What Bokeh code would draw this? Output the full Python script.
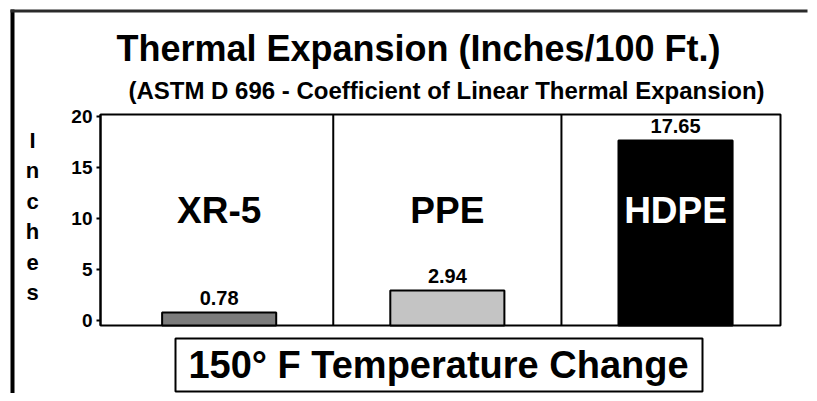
from bokeh.plotting import figure
from bokeh.models import Range1d, Label, BoxAnnotation, ColumnDataSource, FixedTicker
from bokeh.embed import file_html
from bokeh.resources import INLINE
from bokeh.core.properties import value

# ---- data ----
categories = ["XR-5", "PPE", "HDPE"]
values = [0.78, 2.94, 17.65]
value_labels = ["0.78", "2.94", "17.65"]
bar_colors = ["#7c7c7c", "#c4c4c4", "#000000"]
name_colors = ["black", "black", "white"]
y_ticks = [0, 5, 10, 15, 20]
title_text = "Thermal Expansion (Inches/100 Ft.)"
subtitle_text = "(ASTM D 696 - Coefficient of Linear Thermal Expansion)"
y_label = "Inches"
caption_text = "150\u00b0 F Temperature Change"

FONT = "Liberation Sans"
W, H = 809, 393                      # canvas size
BOX_L, BOX_R, BOX_T, BOX_B = 100, 780, 114, 325   # chart box in canvas px
X_LO, X_HI = 0.48, 3.46              # data extent of chart box
Y_LO, Y_HI = -0.5, 20.2
NAME_Y = 10.8
LABEL_PAD = 1.4

positions = list(range(1, len(categories) + 1))
midpoints = [(a + b) / 2 for a, b in zip(positions[:-1], positions[1:])]

kx = (BOX_R - BOX_L) / (X_HI - X_LO)
ky = (BOX_B - BOX_T) / (Y_HI - Y_LO)
x_range = Range1d(X_LO - BOX_L / kx, X_HI + (W - BOX_R) / kx)
y_range = Range1d(Y_LO - (H - BOX_B) / ky, Y_HI + BOX_T / ky)

p = figure(width=W, height=H, output_backend="svg", toolbar_location=None,
           x_range=x_range, y_range=y_range, x_axis_location=None,
           min_border_left=0, min_border_right=0, min_border_top=0, min_border_bottom=0)
p.background_fill_color = "white"
p.border_fill_color = "white"
p.outline_line_color = None
p.xgrid.visible = False
p.ygrid.visible = False

ax = p.yaxis[0]
ax.fixed_location = X_LO
ax.bounds = (Y_LO, Y_HI)
ax.ticker = FixedTicker(ticks=y_ticks)
ax.major_label_text_font = FONT
ax.major_label_text_font_style = "bold"
ax.major_label_text_font_size = "19px"
ax.major_label_text_color = "black"
ax.axis_line_color = "black"
ax.axis_line_width = 2
ax.major_tick_line_color = "black"
ax.major_tick_line_width = 2
ax.major_tick_out = 4
ax.major_tick_in = 0
ax.minor_tick_out = 0
ax.minor_tick_in = 0
ax.major_label_standoff = 4

src = ColumnDataSource(dict(
    x=positions, top=values, vlab=value_labels, name=categories,
    color=bar_colors, ncolor=name_colors,
    name_y=[NAME_Y] * len(categories),
    lab_y=[v + LABEL_PAD for v in values],
))

# chart box
p.quad(left=[X_LO], right=[X_HI], bottom=[Y_LO], top=[Y_HI],
       fill_color="white", line_color="black", line_width=2)

p.vbar(x="x", top="top", bottom=Y_LO, width=0.5, source=src,
       fill_color="color", line_color="black", line_width=2)

p.segment(x0=midpoints, x1=midpoints, y0=[Y_LO] * len(midpoints), y1=[Y_HI] * len(midpoints),
          line_color="black", line_width=2)

p.text(x="x", y="lab_y", text="vlab", source=src, text_font=value(FONT),
       text_font_style="bold", text_font_size="20px", text_color="black",
       text_align="center", text_baseline="alphabetic")

p.text(x="x", y="name_y", text="name", source=src, text_font=value(FONT),
       text_font_style="bold", text_font_size="37px", text_color="ncolor",
       text_align="center", text_baseline="alphabetic")

# ---- decorations (screen units, measured from frame bottom-left) ----
def box(l, r, t, b, fill, line=None, lw=0):
    return BoxAnnotation(left=l, right=r, top=H - t, bottom=H - b,
                         left_units="screen", right_units="screen",
                         top_units="screen", bottom_units="screen",
                         fill_color=fill, fill_alpha=1.0,
                         line_color=line if line else "black", line_width=lw,
                         line_alpha=1.0 if line else 0.0)

p.add_layout(box(10, 14, 9, H, "black"))
p.add_layout(box(10, W - 2, 9, 12, "#2a2a2a"))
p.add_layout(box(175, 702, 338, 391, "white", "black", 2))

def lab(x, y, text, size):
    return Label(x=x, y=H - y, x_units="screen", y_units="screen", text=text,
                 text_font=FONT, text_font_style="bold", text_font_size=size,
                 text_color="black", text_align="center", text_baseline="alphabetic")

p.add_layout(lab(418, 48, title_text, "36px"))
p.add_layout(lab(446, 90, subtitle_text, "24px"))
p.add_layout(lab(438, 364, caption_text, "38px"))
for i, ch in enumerate(y_label):
    p.add_layout(lab(32, 140 + 30.4 * i, ch, "22px"))

open("out.html", "w").write(file_html(p, INLINE))
